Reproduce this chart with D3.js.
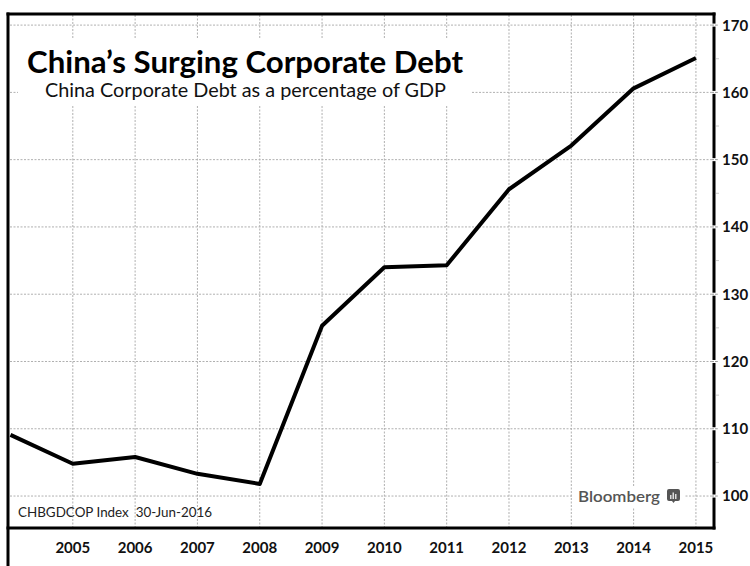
<!DOCTYPE html>
<meta charset="utf-8">
<style>
body { margin: 0; background: #fff; }
svg { display: block; font-family: Lato, "Open Sans", sans-serif; }
.grid line { stroke: #b0b0b0; stroke-width: 1; stroke-dasharray: 2,1.5; }
.yr { font-weight: 700; font-size: 15px; fill: #111; }
</style>
<body>
<div id="chart"></div>
<script src="https://cdn.jsdelivr.net/npm/d3@7"></script>
<script>

var width = 750,
    height = 566;

// frame edges
var frameL = 8, frameR = 714, frameT = 14, frameB = 528;

var years = [2004, 2005, 2006, 2007, 2008, 2009, 2010, 2011, 2012, 2013, 2014, 2015];
var debt = [109.1, 104.8, 105.8, 103.3, 101.8, 125.3, 134.0, 134.3, 145.6, 152.1, 160.6, 165.1];
var yearTicks = [2005, 2006, 2007, 2008, 2009, 2010, 2011, 2012, 2013, 2014, 2015];
var valueTicks = [100, 110, 120, 130, 140, 150, 160, 170];
var minorTicks = [105, 115, 125, 135, 145, 155, 165];

var data = years.map(function(yr, i) { return {year: yr, value: debt[i]}; });

var x = d3.scaleLinear().domain([2003.96, 2015.29]).range([frameL, frameR]);
var y = d3.scaleLinear().domain([95.25, 171.65]).range([frameB, frameT]);

var svg = d3.select("#chart").append("svg")
    .attr("width", width)
    .attr("height", height);

svg.append("rect").attr("width", width).attr("height", height).attr("fill", "#fff");

// gridlines
var grid = svg.append("g").attr("class", "grid");
grid.selectAll(".h")
  .data(valueTicks)
  .enter().append("line")
    .attr("x1", frameL + 2)
    .attr("x2", frameR + 4)
    .attr("y1", function(d) { return y(d); })
    .attr("y2", function(d) { return y(d); });
grid.selectAll(".v")
  .data(yearTicks)
  .enter().append("line")
    .attr("x1", function(d) { return x(d); })
    .attr("x2", function(d) { return x(d); })
    .attr("y1", frameT + 1)
    .attr("y2", frameB);

// white box behind title
svg.append("rect")
    .attr("x", 18).attr("y", 38)
    .attr("width", 453).attr("height", 67)
    .attr("fill", "#fff");

svg.append("text")
    .attr("x", 27).attr("y", 73)
    .attr("font-size", 30)
    .attr("font-weight", 700)
    .attr("fill", "#000")
    .attr("textLength", 436)
    .attr("lengthAdjust", "spacingAndGlyphs")
    .text("China\u2019s Surging Corporate Debt");

svg.append("text")
    .attr("x", 45).attr("y", 97)
    .attr("font-size", 20)
    .attr("fill", "#111")
    .attr("textLength", 401)
    .attr("lengthAdjust", "spacingAndGlyphs")
    .text("China Corporate Debt as a percentage of GDP");

// line
var line = d3.line()
    .x(function(d) { return x(d.year); })
    .y(function(d) { return y(d.value); });

svg.append("path")
    .datum(data)
    .attr("fill", "none")
    .attr("stroke", "#000")
    .attr("stroke-width", 4)
    .attr("stroke-linejoin", "round")
    .attr("d", line);

// bloomberg mark
svg.append("rect")
    .attr("x", 573).attr("y", 486)
    .attr("width", 111).attr("height", 21)
    .attr("fill", "#fff");
svg.append("text")
    .attr("x", 578).attr("y", 502)
    .attr("font-size", 15.5)
    .attr("font-weight", 600)
    .attr("fill", "#555")
    .attr("textLength", 82)
    .attr("lengthAdjust", "spacingAndGlyphs")
    .text("Bloomberg");
var logo = svg.append("g").attr("transform", "translate(667,489)");
logo.append("path")
    .attr("d", "M2,0 H11 Q13,0 13,2 V10 Q13,12 11,12 H8 L6.5,14 L5,12 H2 Q0,12 0,10 V2 Q0,0 2,0 Z")
    .attr("fill", "#555");
logo.selectAll(".bar")
  .data([[3, 6], [5.5, 3.5], [8, 5]])
  .enter().append("rect")
    .attr("x", function(d) { return d[0]; })
    .attr("y", function(d) { return d[1]; })
    .attr("width", 1.5)
    .attr("height", function(d) { return 10 - d[1]; })
    .attr("fill", "#ddd");

svg.append("text")
    .attr("x", 18).attr("y", 517)
    .attr("font-size", 14)
    .attr("fill", "#222")
    .style("white-space", "pre")
    .attr("textLength", 194)
    .attr("lengthAdjust", "spacingAndGlyphs")
    .text("CHBGDCOP Index  30-Jun-2016");

// frame
svg.append("line")
    .attr("x1", frameL).attr("x2", frameL)
    .attr("y1", frameT - 1.5).attr("y2", height)
    .attr("stroke", "#000").attr("stroke-width", 3);
svg.append("line")
    .attr("x1", frameL - 1.5).attr("x2", frameR + 1.5)
    .attr("y1", frameT).attr("y2", frameT)
    .attr("stroke", "#000").attr("stroke-width", 3);
svg.append("line")
    .attr("x1", frameL - 1.5).attr("x2", frameR + 1.5)
    .attr("y1", frameB).attr("y2", frameB)
    .attr("stroke", "#000").attr("stroke-width", 3);
svg.append("line")
    .attr("x1", frameR).attr("x2", frameR)
    .attr("y1", frameT - 1.5).attr("y2", frameB + 1.5)
    .attr("stroke", "#000").attr("stroke-width", 3);

// right axis: gaps at major ticks, light minor ticks
svg.selectAll(".gap")
  .data(valueTicks)
  .enter().append("rect")
    .attr("x", frameR - 2)
    .attr("y", function(d) { return y(d) - 1.5; })
    .attr("width", 4)
    .attr("height", 3)
    .attr("fill", "#fff");
svg.selectAll(".tk")
  .data(valueTicks)
  .enter().append("line")
    .attr("x1", frameR - 2).attr("x2", frameR + 4)
    .attr("y1", function(d) { return y(d); })
    .attr("y2", function(d) { return y(d); })
    .attr("stroke", "#999")
    .attr("stroke-dasharray", "2,1");
svg.selectAll(".mtk")
  .data(minorTicks)
  .enter().append("line")
    .attr("x1", frameR + 2).attr("x2", frameR + 5)
    .attr("y1", function(d) { return y(d); })
    .attr("y2", function(d) { return y(d); })
    .attr("stroke", "#ccc");

svg.selectAll(".ylab")
  .data(valueTicks)
  .enter().append("text")
    .attr("class", "yr")
    .attr("x", 722)
    .attr("y", function(d) { return y(d); })
    .attr("dy", "0.36em")
    .text(function(d) { return d; });

svg.selectAll(".xlab")
  .data(yearTicks)
  .enter().append("text")
    .attr("class", "yr")
    .attr("x", function(d) { return x(d); })
    .attr("y", 553)
    .attr("text-anchor", "middle")
    .text(function(d) { return d; });

</script>
</body>
